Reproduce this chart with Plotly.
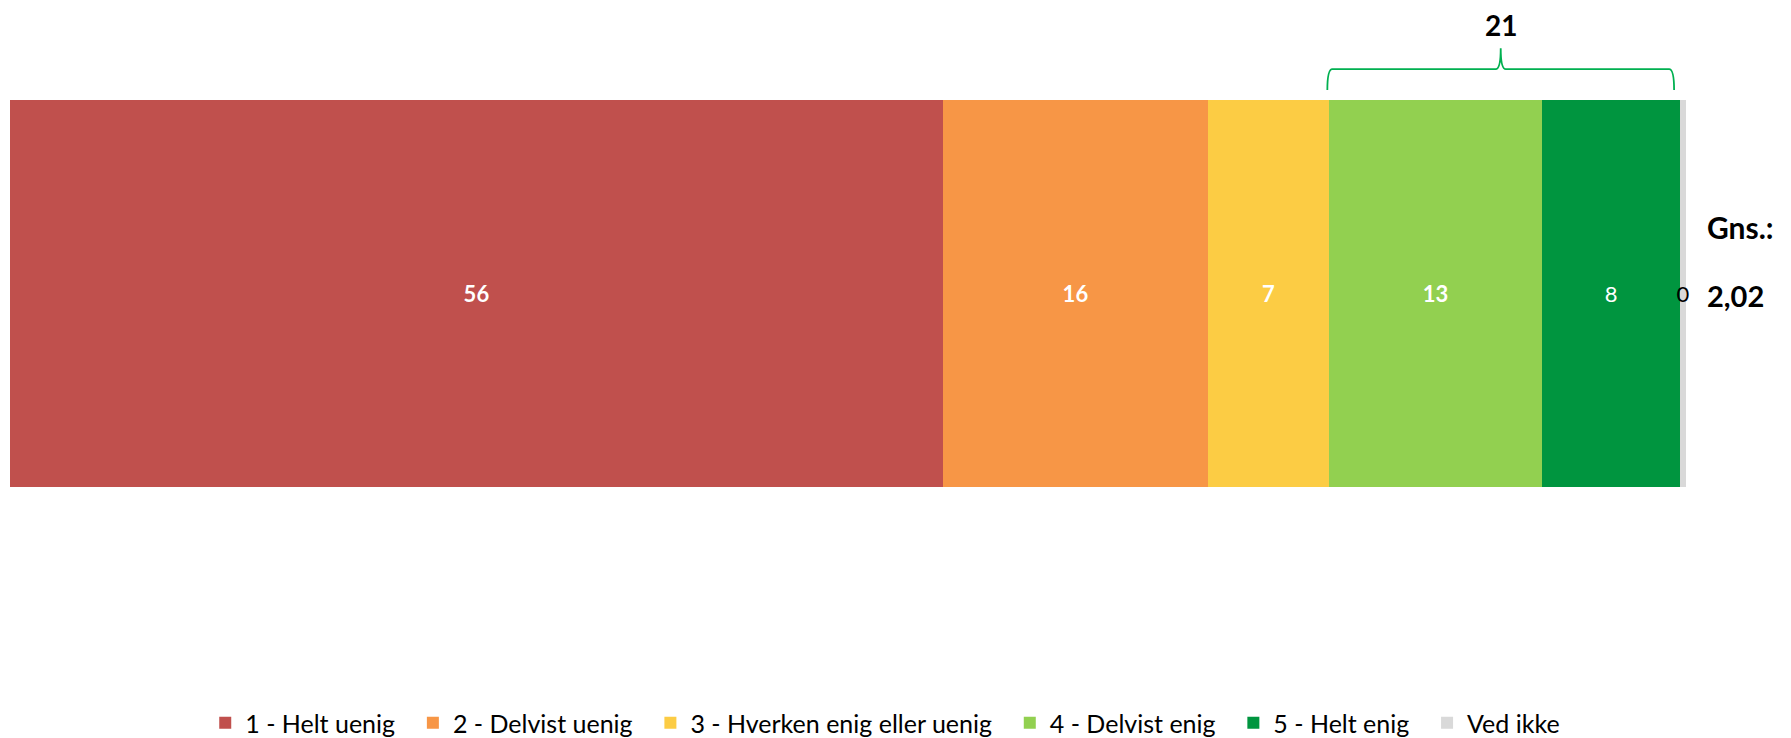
import plotly.graph_objects as go

categories = ["1 - Helt uenig", "2 - Delvist uenig", "3 - Hverken enig eller uenig",
              "4 - Delvist enig", "5 - Helt enig", "Ved ikke"]
values = [55.67, 15.81, 7.22, 12.71, 8.23, 0.36]
colors = ["#C0504D", "#F79646", "#FCCC44", "#92D050", "#00953F", "#D9D9D9"]
label_colors = ["white", "white", "white", "white", "white", "black"]
label_bold = [True, True, True, True, False, False]

FONT = "Lato"
PAD = "\u00a0" * 2  # extra spacing between legend entries

fig = go.Figure()
for i, (cat, v, c, lc, b) in enumerate(zip(categories, values, colors, label_colors, label_bold)):
    fig.add_trace(go.Bar(
        x=[v], y=[0], name=cat + (PAD if i < len(categories) - 1 else ""),
        orientation="h",
        marker=dict(color=c, line=dict(width=0)),
        texttemplate="%{x:.0f}", textposition="inside", insidetextanchor="middle",
        textangle=0, constraintext="none", cliponaxis=False,
        textfont=dict(family=FONT, size=22, color=lc, weight="bold" if b else "normal"),
        hovertemplate=cat + ": %{x:.1f}<extra></extra>",
    ))

# top-box (4 + 5) and mean
top_sum = values[3] + values[4]
scored = values[:5]
mean = sum((i + 1) * v for i, v in enumerate(scored)) / sum(scored)
mean_txt = f"{mean:.2f}".replace(".", ",")

x0 = sum(values[:3]) - 0.1
x1 = sum(values[:5]) - 0.35
xm = (x0 + x1) / 2
yb, yh, yp = 1.0258, 1.080, 1.134
r = 0.3
path = (f"M {x0},{yb} Q {x0},{yh} {x0 + r},{yh} L {xm - r},{yh} Q {xm},{yh} {xm},{yp} "
        f"Q {xm},{yh} {xm + r},{yh} L {x1 - r},{yh} Q {x1},{yh} {x1},{yb}")

fig.add_shape(type="path", path=path, xref="x", yref="paper",
              line=dict(color="#00B050", width=1.8))

fig.add_annotation(x=xm, y=1.1938, xref="x", yref="paper", text=f"<b>{top_sum:.0f}</b>",
                   showarrow=False, font=dict(family=FONT, size=28, color="black"),
                   xanchor="center", yanchor="middle", borderpad=0)
fig.add_annotation(x=1.0113, y=0.672, xref="paper", yref="paper", text="<b>Gns.:</b>",
                   showarrow=False, font=dict(family=FONT, size=30, color="black"),
                   xanchor="left", yanchor="middle")
fig.add_annotation(x=1.0113, y=0.496, xref="paper", yref="paper", text=f"<b>{mean_txt}</b>",
                   showarrow=False, font=dict(family=FONT, size=29, color="black"),
                   xanchor="left", yanchor="middle")

fig.update_layout(
    width=1783, height=730,
    margin=dict(l=2, r=105, t=92, b=251),
    barmode="stack", bargap=0,
    plot_bgcolor="white", paper_bgcolor="white",
    xaxis=dict(range=[0, 100], visible=False, fixedrange=True),
    yaxis=dict(range=[-0.5, 0.5], visible=False, fixedrange=True),
    showlegend=True,
    legend=dict(orientation="h", xref="container", x=0.492, xanchor="center",
                yref="container", y=0.0205, yanchor="middle",
                font=dict(family=FONT, size=25, color="black"),
                traceorder="normal", itemwidth=30),
    font=dict(family=FONT),
)

fig.write_html("out.html")
